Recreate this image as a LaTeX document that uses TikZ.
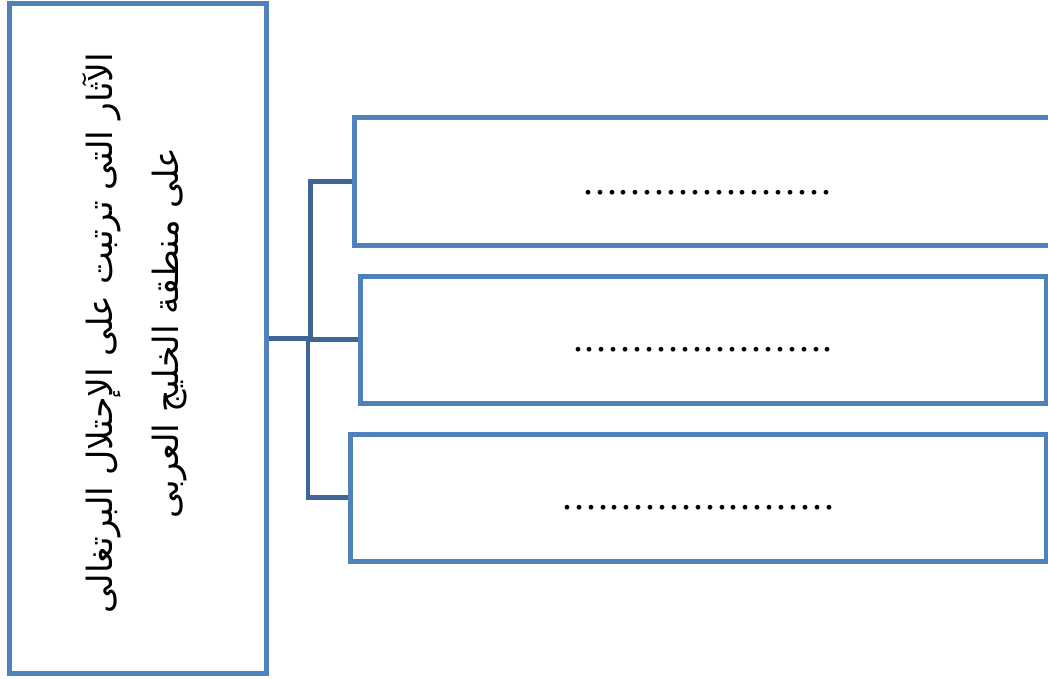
\documentclass[tikz,border=0pt]{standalone}
\usepackage{fontspec}
\setmainfont{Liberation Serif}
\newfontfamily\arabicfont[Script=Arabic]{DejaVu Sans}
\TeXXeTstate=1
\definecolor{boxblue}{HTML}{4F81BD}
\definecolor{connblue}{HTML}{3F6594}
\begin{document}
\begin{tikzpicture}[x=1pt,y=-1pt,
  box/.style={draw=boxblue,line width=5pt,inner sep=0pt},
  conn/.style={draw=connblue,line width=4.5pt},
  dots/.style={font=\fontsize{40}{50}\selectfont\addfontfeature{LetterSpace=4.75},text height=24pt,text depth=0pt}]
\useasboundingbox (0,0) rectangle (1048,678);
\clip (0,0) rectangle (1048,678);
\node[box,minimum width=256.5pt,minimum height=669.5pt] (L) at (137.75,338.25) {};
\node[rotate=90,align=center,font=\arabicfont\fontsize{34.8}{66}\selectfont] (T) at (135,333)
  {\beginR الآثار التى ترتبت على الإحتلال البرتغالى\endR\\\beginR على منطقة الخليج العربى\endR};
\node[box,dots,minimum width=705.5pt,minimum height=127.5pt,text height=26pt] (b1) at (707.25,181.25) {.....................};
\node[box,dots,minimum width=686pt,minimum height=127pt] (b2) at (703,339.5) {......................};
\node[box,dots,minimum width=696.5pt,minimum height=127pt] (b3) at (698.25,497.5) {.......................};
\coordinate (jA) at (310.5,0);
\coordinate (jB) at (308,0);
\draw[conn] (L.east) -- (L.east -| jA) |- (b1.west);
\draw[conn] (L.east -| jA) |- (b2.west);
\draw[conn] (L.east) -- (L.east -| jB) |- (b3.west);
\end{tikzpicture}
\end{document}
